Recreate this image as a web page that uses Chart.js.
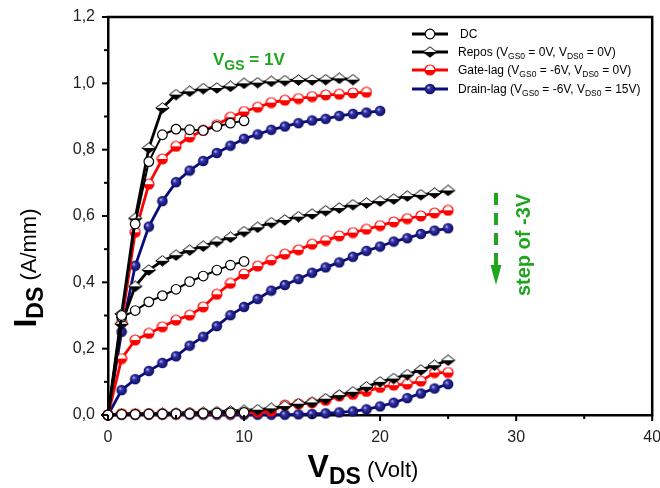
<!DOCTYPE html>
<html><head><meta charset="utf-8">
<script src="https://cdn.jsdelivr.net/npm/chart.js@4.4.1/dist/chart.umd.min.js"></script>
<style>html,body{margin:0;padding:0;background:#fff;}canvas{display:block;}</style>
</head><body>
<canvas id="c" width="660" height="488"></canvas>
<script>
// ---------- DATA ----------
const vds = [0,1,2,3,4,5,6,7,8,9,10,11,12,13,14,15,16,17,18,19,20,21,22,23,24,25];
const xTickLabels = ['0','10','20','30','40'];
const yTickLabels = ['0,0','0,2','0,4','0,6','0,8','1,0','1,2'];
const seriesNames = ['DC','Repos','Gate-lag','Drain-lag'];

// DC (0..10 V)
const dcTop  = [0,0.300,0.576,0.764,0.845,0.862,0.860,0.858,0.870,0.880,0.887];
const dcMid  = [0,0.295,0.315,0.341,0.360,0.379,0.402,0.419,0.437,0.452,0.463];
const dcLow  = [0,0.002,0.002,0.003,0.003,0.004,0.004,0.005,0.006,0.007,0.008];
// Repos
const reposTop = [0,0.305,0.593,0.805,0.926,0.966,0.976,0.984,0.986,0.991,1.000,1.002,1.006,1.008,1.010,1.010,1.011,1.015,1.011];
const reposMid = [0,0.275,0.388,0.437,0.465,0.482,0.497,0.509,0.523,0.536,0.553,0.566,0.580,0.588,0.598,0.606,0.616,0.624,0.634,0.639,0.645,0.651,0.660,0.664,0.669,0.677];
const reposLow = [0,0.003,0.003,0.004,0.005,0.006,0.007,0.008,0.010,0.012,0.014,0.016,0.020,0.027,0.034,0.038,0.049,0.060,0.070,0.085,0.100,0.110,0.122,0.136,0.150,0.165];
// Gate-lag
const gateTop = [0,0.280,0.551,0.696,0.772,0.810,0.838,0.858,0.875,0.898,0.915,0.928,0.942,0.949,0.954,0.960,0.965,0.967,0.971,0.973];
const gateMid = [0,0.170,0.226,0.246,0.266,0.286,0.301,0.326,0.364,0.397,0.425,0.449,0.467,0.485,0.498,0.515,0.526,0.540,0.550,0.560,0.571,0.582,0.592,0.600,0.609,0.617];
const gateLow = [0,0.004,0.004,0.004,0.004,0.004,0.005,0.005,0.006,0.007,0.008,0.009,0.012,0.030,0.033,0.037,0.044,0.057,0.062,0.071,0.083,0.090,0.093,0.102,0.128,0.128];
// Drain-lag
const drainTop = [0,0.251,0.450,0.568,0.645,0.702,0.737,0.766,0.790,0.812,0.833,0.846,0.860,0.870,0.880,0.888,0.893,0.902,0.908,0.912,0.917];
const drainMid = [0,0.075,0.108,0.133,0.157,0.177,0.209,0.236,0.268,0.301,0.326,0.350,0.375,0.392,0.410,0.429,0.445,0.460,0.477,0.495,0.508,0.523,0.533,0.546,0.556,0.563];
const drainLow = [0,0.001,0.001,0.001,0.001,0.001,0.001,0.001,0.001,0.001,0.001,0.001,0.001,0.001,0.002,0.003,0.005,0.008,0.011,0.017,0.026,0.037,0.051,0.065,0.080,0.093];

// ---------- STYLES ----------
const FONT = "'Liberation Sans', Arial, Helvetica, sans-serif";
const GREEN = '#1fa51f';
const RED = '#ff0000';
const NAVY = '#0b0b80';

function mkCanvas(w,h){const c=document.createElement('canvas');c.width=w;c.height=h;return c;}
function halfDiamond(){
  const c=mkCanvas(15,12), g=c.getContext('2d');
  const d=()=>{g.beginPath();g.moveTo(7.5,0.8);g.lineTo(14.2,6);g.lineTo(7.5,11.2);g.lineTo(0.8,6);g.closePath();};
  d(); g.fillStyle='#fff'; g.fill();
  g.beginPath();g.moveTo(0.8,6);g.lineTo(14.2,6);g.lineTo(7.5,11.2);g.closePath();g.fillStyle='#000';g.fill();
  d(); g.strokeStyle='#000'; g.lineWidth=1; g.stroke();
  return c;
}
function halfCircleRed(){
  const c=mkCanvas(12,12), g=c.getContext('2d');
  g.beginPath();g.arc(6,6,5,0,Math.PI*2);g.fillStyle='#fff';g.fill();
  g.beginPath();g.arc(6,6,5,0,Math.PI);g.closePath();g.fillStyle=RED;g.fill();
  g.beginPath();g.arc(6,6,5,0,Math.PI*2);g.strokeStyle=RED;g.lineWidth=1.2;g.stroke();
  return c;
}
function navyBall(){
  const c=mkCanvas(12,12), g=c.getContext('2d');
  const gr=g.createRadialGradient(4.3,4.3,0.3,6,6,5.6);
  gr.addColorStop(0,'#b8b8ee');gr.addColorStop(0.3,'#3434a8');gr.addColorStop(1,'#07075a');
  g.beginPath();g.arc(6,6,5.3,0,Math.PI*2);g.fillStyle=gr;g.fill();
  return c;
}
const imgDiamond = halfDiamond(), imgRed = halfCircleRed(), imgBall = navyBall();

function pts(ys){return ys.map((y,i)=>({x:vds[i],y:y}));}
function ds(label, ys, color, width, style, extra){
  return Object.assign({label, data:pts(ys), borderColor:color, backgroundColor:color,
    borderWidth:width, pointStyle:style, pointRadius:5, pointHoverRadius:5,
    tension:0, fill:false, clip:false}, extra||{});
}
const dcExtra = {pointBackgroundColor:'#fff', pointBorderColor:'#000', pointBorderWidth:1.2, pointRadius:4.8};

const datasets = [
  ds(seriesNames[0], dcTop, '#000', 2, 'circle', dcExtra),
  ds(seriesNames[0], dcMid, '#000', 2, 'circle', dcExtra),
  ds(seriesNames[0], dcLow, '#000', 2, 'circle', dcExtra),
  ds(seriesNames[1], reposTop, '#000', 2.8, imgDiamond),
  ds(seriesNames[1], reposMid, '#000', 2.8, imgDiamond),
  ds(seriesNames[1], reposLow, '#000', 2.8, imgDiamond),
  ds(seriesNames[2], gateTop, RED, 2.8, imgRed),
  ds(seriesNames[2], gateMid, RED, 2.8, imgRed),
  ds(seriesNames[2], gateLow, RED, 2.8, imgRed),
  ds(seriesNames[3], drainTop, NAVY, 2.8, imgBall),
  ds(seriesNames[3], drainMid, NAVY, 2.8, imgBall),
  ds(seriesNames[3], drainLow, NAVY, 2.8, imgBall)
];

function runs(ctx, parts, x, y){
  for(const p of parts){ctx.font=p.f; ctx.fillText(p.t, x, y+(p.dy||0)); x+=ctx.measureText(p.t).width;}
  return x;
}
function runsWidth(ctx, parts){let w=0;for(const p of parts){ctx.font=p.f;w+=ctx.measureText(p.t).width;}return w;}

const deco = {
  id:'deco',
  afterDraw(chart){
    const {ctx, chartArea:a, scales:{x,y}} = chart;
    ctx.save();
    // frame top/right
    ctx.strokeStyle='#000'; ctx.lineWidth=2.5; ctx.lineCap='square';
    ctx.beginPath(); ctx.moveTo(a.left,a.top); ctx.lineTo(a.right,a.top); ctx.lineTo(a.right,a.bottom); ctx.stroke();
    // tick marks (major + minor)
    ctx.lineWidth=2; ctx.lineCap='butt';
    for(let k=0;k<=8;k++){const px=x.getPixelForValue(k*5);const L=k%2===0?6:4;
      ctx.beginPath();ctx.moveTo(px,a.bottom);ctx.lineTo(px,a.bottom+L);ctx.stroke();}
    for(let k=0;k<=12;k++){const py=y.getPixelForValue(k/10);const L=k%2===0?6:4;
      ctx.beginPath();ctx.moveTo(a.left-L,py);ctx.lineTo(a.left,py);ctx.stroke();}

    ctx.textAlign='left'; ctx.textBaseline='alphabetic';
    // X title
    ctx.fillStyle='#000';
    const xt=[{t:'V',f:`bold 32px ${FONT}`},{t:'DS',f:`bold 23px ${FONT}`,dy:7},{t:' (Volt)',f:`22px ${FONT}`}];
    const xw=runsWidth(ctx,xt);
    runs(ctx,xt,363-xw/2,477);
    // Y title
    const yt=[{t:'I',f:`bold 32px ${FONT}`},{t:'DS',f:`bold 23px ${FONT}`,dy:7},{t:' (A/mm)',f:`22px ${FONT}`}];
    const yw=runsWidth(ctx,yt);
    ctx.save(); ctx.translate(36,268); ctx.rotate(-Math.PI/2);
    runs(ctx,yt,-yw/2,0); ctx.restore();

    // VGS = 1V
    ctx.fillStyle=GREEN;
    runs(ctx,[{t:'V',f:`bold 17px ${FONT}`},{t:'GS',f:`bold 14px ${FONT}`,dy:5},{t:' = 1V',f:`bold 17px ${FONT}`}],213,65);
    // step of -3V
    ctx.save(); ctx.translate(530,245); ctx.rotate(-Math.PI/2);
    ctx.font=`bold 20px ${FONT}`; ctx.textAlign='center'; ctx.fillText('step of -3V',0,0); ctx.restore();
    // dashed arrow
    ctx.strokeStyle=GREEN; ctx.lineWidth=4; ctx.setLineDash([12,8]);
    ctx.beginPath(); ctx.moveTo(496,193); ctx.lineTo(496,266); ctx.stroke(); ctx.setLineDash([]);
    ctx.beginPath(); ctx.moveTo(490.5,265); ctx.lineTo(501.5,265); ctx.lineTo(496,285); ctx.closePath(); ctx.fillStyle=GREEN; ctx.fill();

    // Legend
    const rows=[
      {c:'#000', m:'dc', parts:[{t:seriesNames[0]}]},
      {c:'#000', m:imgDiamond, parts:[{t:seriesNames[1]+' (V'},{t:'GS0',s:1},{t:' = 0V, V'},{t:'DS0',s:1},{t:' = 0V)'}]},
      {c:RED, m:imgRed, parts:[{t:seriesNames[2]+' (V'},{t:'GS0',s:1},{t:' = -6V, V'},{t:'DS0',s:1},{t:' = 0V)'}]},
      {c:NAVY, m:imgBall, parts:[{t:seriesNames[3]+' (V'},{t:'GS0',s:1},{t:' = -6V, V'},{t:'DS0',s:1},{t:' = 15V)'}]}
    ];
    const ry=[34,52,70,89];
    rows.forEach((r,i)=>{
      const yy=ry[i];
      ctx.strokeStyle=r.c; ctx.lineWidth=3;
      ctx.beginPath(); ctx.moveTo(412,yy); ctx.lineTo(448,yy); ctx.stroke();
      if(r.m==='dc'){ctx.beginPath();ctx.arc(430,yy,4.8,0,Math.PI*2);ctx.fillStyle='#fff';ctx.fill();ctx.lineWidth=1.2;ctx.strokeStyle='#000';ctx.stroke();}
      else ctx.drawImage(r.m,430-r.m.width/2,yy-r.m.height/2);
      ctx.fillStyle='#000';
      const parts=r.parts.map(p=>p.s?{t:p.t,f:`8.5px ${FONT}`,dy:2.5}:{t:p.t,f:`12px ${FONT}`});
      runs(ctx,parts,i===0?460:458,yy+4);
    });
    ctx.restore();
  }
};

new Chart(document.getElementById('c'),{
  type:'line',
  data:{datasets},
  options:{
    responsive:false, animation:false, devicePixelRatio:1,
    layout:{padding:{top:17,right:5,left:0,bottom:0}},
    plugins:{legend:{display:false},tooltip:{enabled:false}},
    scales:{
      x:{type:'linear',min:0,max:40,
        grid:{display:false,drawTicks:false},
        border:{display:true,color:'#000',width:2.5},
        ticks:{stepSize:10,padding:13,color:'#222',font:{family:FONT,size:16},
          callback:v=>xTickLabels[Math.round(v/10)]},
        afterFit:s=>{s.height=73;s.paddingLeft=0;s.paddingRight=0;}},
      y:{type:'linear',min:0,max:1.2,
        grid:{display:false,drawTicks:false},
        border:{display:true,color:'#000',width:2.5},
        ticks:{stepSize:0.2,padding:13,color:'#222',font:{family:FONT,size:16},
          callback:v=>yTickLabels[Math.round(v/0.2)]},
        afterFit:s=>{s.width=108;s.paddingTop=0;s.paddingBottom=0;}}
    }
  },
  plugins:[deco]
});
</script>
</body></html>
